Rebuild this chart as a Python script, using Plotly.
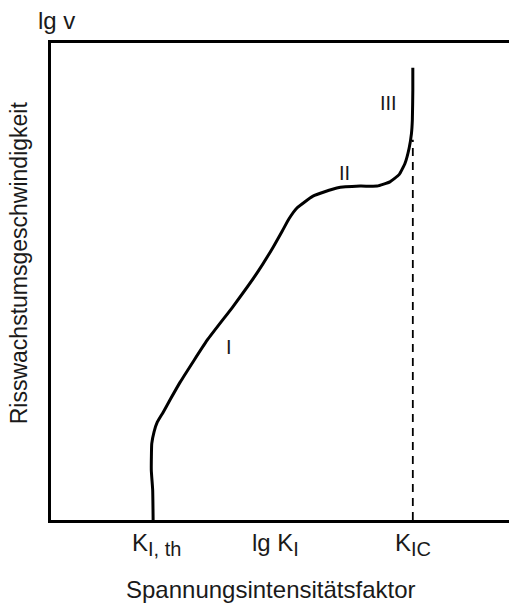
import plotly.graph_objects as go

# Curve (lg K, lg v in arbitrary units 0..10)
lgK = [2.23, 2.22, 2.19, 2.20, 2.25, 2.32, 2.45, 2.60, 2.82, 3.41, 3.97, 4.50, 4.85, 5.05, 5.20,
       5.37, 5.72, 6.24, 6.75, 7.12, 7.40, 7.60, 7.73, 7.82, 7.87, 7.89, 7.90, 7.90]
lgv = [0.00, 0.63, 1.05, 1.60, 1.85, 2.05, 2.26, 2.52, 2.89, 3.77, 4.47, 5.18, 5.72, 6.06, 6.32,
       6.54, 6.79, 6.96, 7.00, 7.00, 7.09, 7.24, 7.48, 7.80, 8.10, 8.39, 9.01, 9.48]

K_IC = 7.90
K_IC_top = 7.97

region_labels = ["I", "II", "III"]
region_x = [3.89, 6.40, 7.36]
region_y = [3.63, 7.27, 8.74]

tick_vals = [2.30, 4.90, 7.90]
tick_main = ["K", "lg K", "K"]
tick_sub = ["I, th", "I", "IC"]

FONT = "Liberation Sans, Arial, sans-serif"
INK = "#1a1a1a"

fig = go.Figure()
fig.add_trace(go.Scatter(x=lgK, y=lgv, mode="lines",
                         line=dict(color="black", width=3, shape="spline", smoothing=0.4),
                         hoverinfo="skip"))
fig.add_trace(go.Scatter(x=[K_IC, K_IC], y=[0, K_IC_top], mode="lines",
                         line=dict(color="black", width=1.8, dash="8px,6px"),
                         hoverinfo="skip"))

for t, x, y in zip(region_labels, region_x, region_y):
    fig.add_annotation(x=x, y=y, text=t, showarrow=False,
                       font=dict(family=FONT, size=20, color=INK))

for v, m, s in zip(tick_vals, tick_main, tick_sub):
    fig.add_annotation(x=v, xref="x", y=-0.052, yref="paper",
                       text=f"{m}<sub><span style='font-size:20px'>{s}</span></sub>",
                       showarrow=False, yanchor="middle",
                       font=dict(family=FONT, size=24, color=INK))

fig.add_annotation(xref="paper", yref="paper", x=0.013, y=1.048, xanchor="center", yanchor="middle",
                   text="lg v", showarrow=False, font=dict(family=FONT, size=24, color=INK))
fig.add_annotation(xref="paper", yref="paper", x=-0.068, y=0.54, textangle=-90,
                   xanchor="center", yanchor="middle",
                   text="Risswachstumsgeschwindigkeit", showarrow=False,
                   font=dict(family=FONT, size=23, color=INK))
fig.add_annotation(xref="paper", yref="paper", x=0.48, y=-0.145, xanchor="center", yanchor="middle",
                   text="Spannungsintensitätsfaktor", showarrow=False,
                   font=dict(family=FONT, size=24, color=INK))

fig.update_layout(
    width=509, height=605,
    margin=dict(l=51, r=0, t=43, b=85),
    paper_bgcolor="white", plot_bgcolor="white",
    showlegend=False,
    xaxis=dict(range=[0, 10], showgrid=False, zeroline=False, showticklabels=False,
               ticks="", showline=True, mirror=True, linecolor="black", linewidth=3),
    yaxis=dict(range=[0, 10], showgrid=False, zeroline=False, showticklabels=False,
               ticks="", showline=True, linecolor="black", linewidth=3),
)

fig.write_html("out.html", config={"displayModeBar": False},
               post_script="document.body.style.margin='0';document.body.style.overflow='hidden';")
